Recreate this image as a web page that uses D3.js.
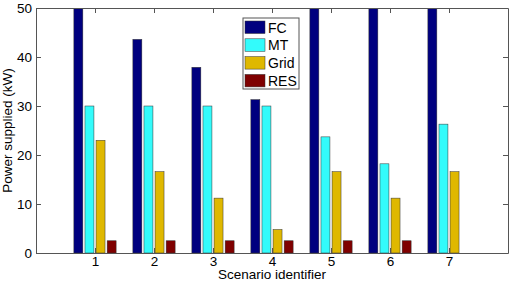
<!DOCTYPE html>
<html>
<head>
<meta charset="utf-8">
<script src="https://cdn.jsdelivr.net/npm/d3@7"></script>
<style>
  body { margin: 0; background: #fff; }
  svg { display: block; }
  text { font-family: Arial, "Liberation Sans", sans-serif; }
</style>
</head>
<body>
<svg id="chart" width="513" height="282"></svg>
<script>
const scenarios = [1, 2, 3, 4, 5, 6, 7];
const seriesNames = ["FC", "MT", "Grid", "RES"];
const fcValues   = [50, 43.6, 37.9, 31.3, 50, 50, 50];
const mtValues   = [30, 30, 30, 30, 23.7, 18.2, 26.3];
const gridValues = [23, 16.6, 11.2, 4.8, 16.6, 11.2, 16.6];
const resValues  = [2.5, 2.5, 2.5, 2.5, 2.5, 2.5, 0];
const yTicks = [0, 10, 20, 30, 40, 50];
const seriesColors = ["#00007f", "#33fbfb", "#dfb800", "#7f0000"];

const series = [fcValues, mtValues, gridValues, resValues];

const svg = d3.select("#chart");
const M = { left: 36, right: 5, top: 8, bottom: 29 };
const W = 513, H = 282;
const AXIS = "#555";
const FONT = 13.5;

const x = d3.scaleLinear().domain([0, 8]).range([M.left, W - M.right]);
const y = d3.scaleLinear().domain([0, 50]).range([H - M.bottom, M.top]);

// bar offsets inside a group (MATLAB-style grouped bars)
const step = 0.188;
const barW = 0.152;
const offset = i => (i - (series.length - 1) / 2) * step;

svg.append("defs").append("clipPath").attr("id", "plotClip")
  .append("rect")
  .attr("x", M.left).attr("y", M.top)
  .attr("width", W - M.right - M.left).attr("height", H - M.bottom - M.top);

const bars = svg.append("g").attr("clip-path", "url(#plotClip)");
series.forEach((vals, si) => {
  bars.selectAll(null)
    .data(vals.map((v, i) => ({ s: scenarios[i], v })).filter(d => d.v > 0))
    .join("rect")
    .attr("x", d => x(d.s + offset(si) - barW / 2))
    .attr("width", d => x(barW) - x(0))
    .attr("y", d => y(d.v))
    .attr("height", d => y(0) - y(d.v))
    .attr("fill", seriesColors[si])
    .attr("stroke", "#333")
    .attr("stroke-width", 0.5);
});

// axes (box with inward ticks)
const tickLen = 5;
const gB = svg.append("g").attr("transform", `translate(0,${y(0)})`)
  .call(d3.axisBottom(x).tickValues(scenarios).tickSizeInner(-tickLen).tickSizeOuter(0).tickPadding(3));
const gT = svg.append("g").attr("transform", `translate(0,${M.top})`)
  .call(d3.axisTop(x).tickValues(scenarios).tickSizeInner(-tickLen).tickSizeOuter(0).tickFormat(""));
const gL = svg.append("g").attr("transform", `translate(${M.left},0)`)
  .call(d3.axisLeft(y).tickValues(yTicks).tickSizeInner(-tickLen).tickSizeOuter(0).tickPadding(4));
const gR = svg.append("g").attr("transform", `translate(${W - M.right},0)`)
  .call(d3.axisRight(y).tickValues(yTicks).tickSizeInner(-tickLen).tickSizeOuter(0).tickFormat(""));

[gB, gT, gL, gR].forEach(g => {
  g.select(".domain").attr("stroke", AXIS);
  g.selectAll(".tick line").attr("stroke", AXIS);
  g.selectAll("text").attr("fill", "#000").attr("font-size", FONT)
    .attr("font-family", "Arial, 'Liberation Sans', sans-serif");
});

// axis titles
svg.append("text")
  .attr("x", (M.left + W - M.right) / 2).attr("y", H - 3.5)
  .attr("text-anchor", "middle").attr("font-size", FONT)
  .text("Scenario identifier");
svg.append("text")
  .attr("transform", `translate(12,${(M.top + H - M.bottom) / 2}) rotate(-90)`)
  .attr("text-anchor", "middle").attr("font-size", FONT)
  .text("Power supplied (kW)");

// legend
const lg = svg.append("g").attr("transform", "translate(243,18)");
lg.append("rect").attr("width", 56).attr("height", 71)
  .attr("fill", "#fff").attr("stroke", AXIS).attr("stroke-width", 1);
seriesNames.forEach((name, i) => {
  const row = lg.append("g").attr("transform", `translate(2,${3 + i * 17.8})`);
  row.append("rect").attr("width", 20).attr("height", 12.5)
    .attr("fill", seriesColors[i]).attr("stroke", "#333").attr("stroke-width", 0.5);
  row.append("text").attr("x", 23).attr("y", 11.5)
    .attr("font-size", 14).text(name);
});
</script>
</body>
</html>
